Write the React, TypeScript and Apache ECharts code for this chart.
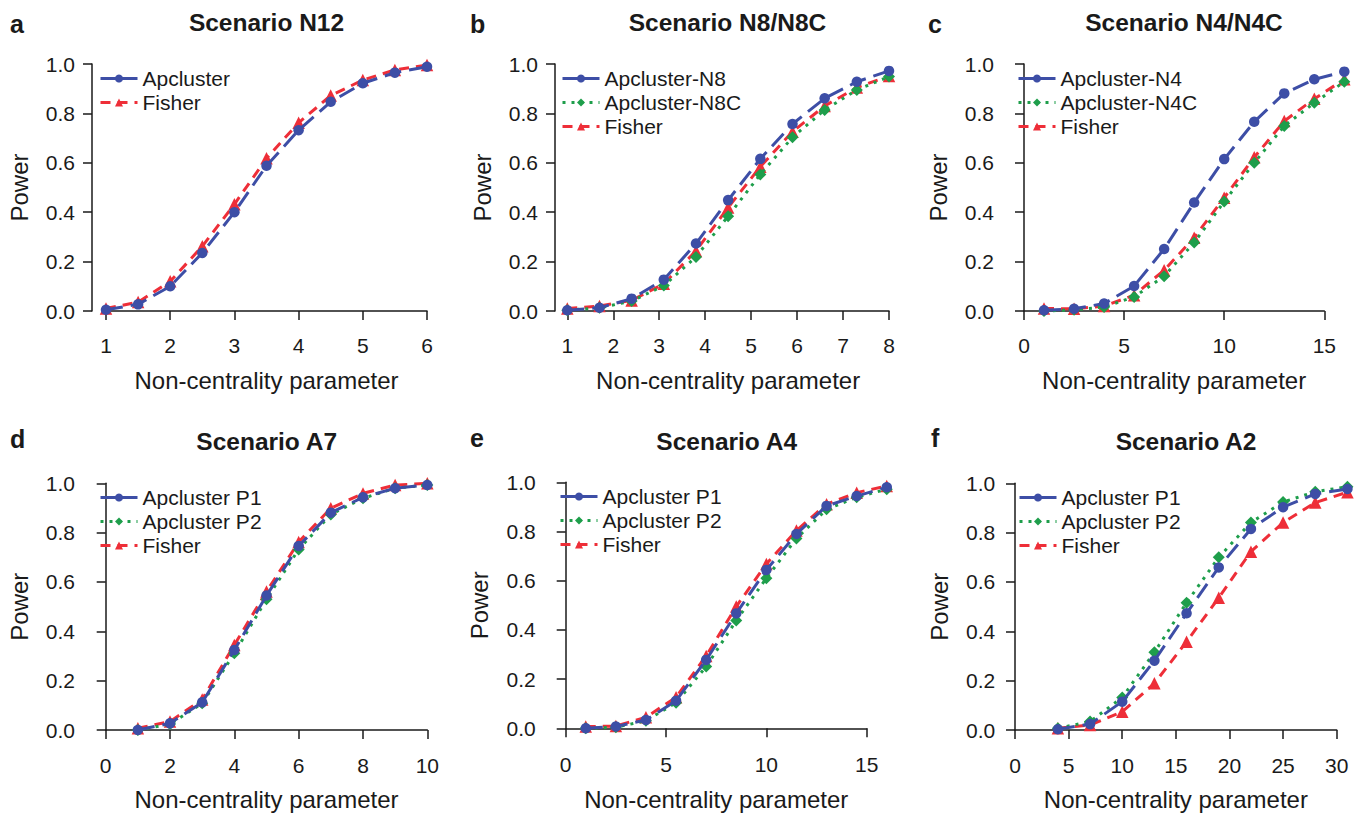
import React, { useEffect, useRef } from "react";
import * as echarts from "echarts";

const FONT = '"Liberation Sans", Arial, Helvetica, sans-serif';
const BLUE = "#3D4EA6";
const GREEN = "#1E9E4B";
const RED = "#EE2E38";
const INK = "#1a1a1a";

// ---------- data ----------
const xN12 = [1, 1.5, 2, 2.5, 3, 3.5, 4, 4.5, 5, 5.5, 6];
const n12Apcluster = [0.005, 0.027, 0.1, 0.235, 0.4, 0.588, 0.732, 0.847, 0.922, 0.965, 0.989];
const n12Fisher = [0.01, 0.036, 0.12, 0.262, 0.432, 0.618, 0.762, 0.872, 0.935, 0.976, 0.996];

const xN8 = [1, 1.7, 2.4, 3.1, 3.8, 4.5, 5.2, 5.9, 6.6, 7.3, 8];
const n8Apcluster = [0.003, 0.013, 0.05, 0.127, 0.273, 0.449, 0.616, 0.757, 0.861, 0.928, 0.972];
const n8cApcluster = [0.003, 0.013, 0.04, 0.103, 0.219, 0.384, 0.553, 0.703, 0.814, 0.895, 0.949];
const n8Fisher = [0.01, 0.02, 0.043, 0.11, 0.243, 0.419, 0.584, 0.726, 0.83, 0.905, 0.951];

const xN4 = [1, 2.5, 4, 5.5, 7, 8.5, 10, 11.5, 13, 14.5, 16];
const n4Apcluster = [0.003, 0.009, 0.03, 0.101, 0.251, 0.439, 0.615, 0.766, 0.881, 0.938, 0.969];
const n4cApcluster = [0.0, 0.005, 0.016, 0.057, 0.141, 0.277, 0.443, 0.6, 0.749, 0.843, 0.928];
const n4Fisher = [0.01, 0.009, 0.02, 0.064, 0.165, 0.297, 0.459, 0.622, 0.769, 0.859, 0.938];

const xA7 = [1, 2, 3, 4, 5, 6, 7, 8, 9, 10];
const a7P1 = [0.0, 0.027, 0.112, 0.324, 0.545, 0.746, 0.881, 0.943, 0.98, 0.993];
const a7P2 = [0.0, 0.024, 0.108, 0.311, 0.53, 0.732, 0.874, 0.939, 0.98, 0.993];
const a7Fisher = [0.007, 0.034, 0.124, 0.345, 0.561, 0.762, 0.899, 0.959, 0.993, 1.0];

const xA4 = [1, 2.5, 4, 5.5, 7, 8.5, 10, 11.5, 13, 14.5, 16];
const a4P1 = [0.0, 0.007, 0.034, 0.112, 0.278, 0.467, 0.644, 0.79, 0.904, 0.944, 0.98];
const a4P2 = [0.0, 0.004, 0.031, 0.104, 0.251, 0.438, 0.61, 0.772, 0.89, 0.939, 0.972];
const a4Fisher = [0.007, 0.009, 0.045, 0.126, 0.294, 0.495, 0.668, 0.804, 0.911, 0.958, 0.985];

const xA2 = [4, 7, 10, 13, 16, 19, 22, 25, 28, 31];
const a2P1 = [0.003, 0.024, 0.115, 0.281, 0.473, 0.659, 0.815, 0.903, 0.957, 0.977];
const a2P2 = [0.007, 0.034, 0.132, 0.315, 0.516, 0.7, 0.841, 0.924, 0.966, 0.986];
const a2Fisher = [0.007, 0.02, 0.074, 0.189, 0.358, 0.536, 0.723, 0.841, 0.922, 0.964];

const titles = ["Scenario N12", "Scenario N8/N8C", "Scenario N4/N4C", "Scenario A7", "Scenario A4", "Scenario A2"];
const letters = ["a", "b", "c", "d", "e", "f"];
const xAxisName = "Non-centrality parameter";
const yAxisName = "Power";

type Kind = "blue" | "green" | "red";
type S = { name: string; kind: Kind; y: number[] };

const panelSeries: { x: number[]; series: S[] }[] = [
  { x: xN12, series: [{ name: "Apcluster", kind: "blue", y: n12Apcluster }, { name: "Fisher", kind: "red", y: n12Fisher }] },
  {
    x: xN8,
    series: [
      { name: "Apcluster-N8", kind: "blue", y: n8Apcluster },
      { name: "Apcluster-N8C", kind: "green", y: n8cApcluster },
      { name: "Fisher", kind: "red", y: n8Fisher },
    ],
  },
  {
    x: xN4,
    series: [
      { name: "Apcluster-N4", kind: "blue", y: n4Apcluster },
      { name: "Apcluster-N4C", kind: "green", y: n4cApcluster },
      { name: "Fisher", kind: "red", y: n4Fisher },
    ],
  },
  {
    x: xA7,
    series: [
      { name: "Apcluster P1", kind: "blue", y: a7P1 },
      { name: "Apcluster P2", kind: "green", y: a7P2 },
      { name: "Fisher", kind: "red", y: a7Fisher },
    ],
  },
  {
    x: xA4,
    series: [
      { name: "Apcluster P1", kind: "blue", y: a4P1 },
      { name: "Apcluster P2", kind: "green", y: a4P2 },
      { name: "Fisher", kind: "red", y: a4Fisher },
    ],
  },
  {
    x: xA2,
    series: [
      { name: "Apcluster P1", kind: "blue", y: a2P1 },
      { name: "Apcluster P2", kind: "green", y: a2P2 },
      { name: "Fisher", kind: "red", y: a2Fisher },
    ],
  },
];

// ---------- layout ----------
// axis grid spans the tick range; data grid spans xMin..dataXMax on the same scale
const layout = [
  { left: 106, top: 64, width: 321, height: 247, xOff: 10, yOff: 14, xMin: 1, xMax: 6, xInt: 1, dataXMax: 6, cx: 266.5, ty: 22, lx: 10, ly: 24, legX: 99, legY: 68 },
  { left: 567.3, top: 64, width: 321.7, height: 247, xOff: 10, yOff: 12.3, xMin: 1, xMax: 8, xInt: 1, dataXMax: 8, cx: 727.5, ty: 22, lx: 470, ly: 23.5, legX: 561, legY: 68 },
  { left: 1024, top: 64, width: 300.3, height: 247, xOff: 10, yOff: 13, xMin: 0, xMax: 15, xInt: 5, dataXMax: 16, cx: 1184, ty: 22, lx: 928, ly: 23.5, legX: 1017, legY: 68 },
  { left: 105.7, top: 483.3, width: 321.6, height: 246.7, xOff: 10.7, yOff: 13.7, xMin: 0, xMax: 10, xInt: 2, dataXMax: 10, cx: 266.7, ty: 441.7, lx: 10, ly: 438.5, legX: 99, legY: 487 },
  { left: 565.7, top: 482.3, width: 301, height: 246, xOff: 11.7, yOff: 13, xMin: 0, xMax: 15, xInt: 5, dataXMax: 16, cx: 726.7, ty: 441.7, lx: 470, ly: 438, legX: 559, legY: 486 },
  { left: 1015, top: 483.3, width: 321.7, height: 246.7, xOff: 10.7, yOff: 2.7, xMin: 0, xMax: 30, xInt: 5, dataXMax: 31, cx: 1186, ty: 441.7, lx: 931, ly: 438, legX: 1018, legY: 487 },
];

const kindStyle: Record<Kind, any> = {
  blue: { color: BLUE, symbol: "circle", symbolSize: 10.5, dash: [17, 8], z: 4 },
  green: { color: GREEN, symbol: "diamond", symbolSize: 12, dash: [3, 6], z: 3 },
  red: { color: RED, symbol: "triangle", symbolSize: 12.5, dash: [10, 7], z: 2 },
};

function buildOption() {
  const grid: any[] = [];
  const xAxis: any[] = [];
  const yAxis: any[] = [];
  const series: any[] = [];
  const legend: any[] = [];
  const graphic: any[] = [];
  const n = layout.length;

  const axisCommon = {
    axisLine: { show: true, lineStyle: { color: INK, width: 1.5 } },
    axisTick: { show: true, length: 9, inside: false, lineStyle: { color: INK, width: 1.5 } },
    splitLine: { show: false },
    nameLocation: "middle",
    nameTextStyle: { fontFamily: FONT, fontSize: 24, color: INK },
  };

  // visible axis grids
  layout.forEach((L, i) => {
    grid.push({ left: L.left, top: L.top, width: L.width, height: L.height, containLabel: false });
    xAxis.push({
      ...axisCommon,
      type: "value",
      gridIndex: i,
      min: L.xMin,
      max: L.xMax,
      interval: L.xInt,
      offset: L.xOff,
      name: xAxisName,
      nameGap: 47,
      axisLabel: { fontFamily: FONT, fontSize: 21, color: INK, margin: 14 },
    });
    yAxis.push({
      ...axisCommon,
      type: "value",
      gridIndex: i,
      min: 0,
      max: 1,
      interval: 0.2,
      offset: L.yOff,
      name: yAxisName,
      nameGap: 61,
      axisLabel: { fontFamily: FONT, fontSize: 21, color: INK, margin: 17, formatter: (v: number) => v.toFixed(1) },
    });
  });

  // data grids (same scale, hidden axes)
  layout.forEach((L, i) => {
    const pxPerUnit = L.width / (L.xMax - L.xMin);
    grid.push({
      left: L.left,
      top: L.top,
      width: pxPerUnit * (L.dataXMax - L.xMin),
      height: L.height,
      containLabel: false,
    });
    xAxis.push({ type: "value", gridIndex: n + i, min: L.xMin, max: L.dataXMax, show: false, splitLine: { show: false } });
    yAxis.push({ type: "value", gridIndex: n + i, min: 0, max: 1, show: false, splitLine: { show: false } });

    const P = panelSeries[i];
    const order: Kind[] = ["red", "green", "blue"];
    order.forEach((k) => {
      P.series
        .filter((s) => s.kind === k)
        .forEach((s) => {
          const st = kindStyle[k];
          series.push({
            type: "line",
            name: s.name,
            xAxisIndex: n + i,
            yAxisIndex: n + i,
            data: P.x.map((xv, j) => [xv, s.y[j]]),
            symbol: st.symbol,
            symbolSize: st.symbolSize,
            showSymbol: true,
            clip: false,
            z: st.z,
            lineStyle: { color: st.color, width: 3, type: st.dash },
            itemStyle: { color: st.color },
            emphasis: { disabled: true },
          });
        });
    });

    legend.push({
      orient: "vertical",
      left: L.legX,
      top: L.legY,
      padding: 0,
      itemWidth: 37,
      itemHeight: 10,
      itemGap: 3,
      selectedMode: false,
      textStyle: { fontFamily: FONT, fontSize: 21, color: INK },
      lineStyle: { width: 3 },
      data: P.series.map((s) =>
        s.kind === "blue" ? { name: s.name, lineStyle: { type: "solid", width: 3 } } : { name: s.name }
      ),
    });

    graphic.push({
      type: "text",
      x: L.cx,
      y: L.ty,
      style: {
        text: titles[i],
        fill: INK,
        font: `bold 24.5px ${FONT}`,
        align: "center",
        verticalAlign: "middle",
      },
    });
    graphic.push({
      type: "text",
      x: L.lx,
      y: L.ly,
      style: {
        text: letters[i],
        fill: INK,
        font: `bold 25px ${FONT}`,
        align: "left",
        verticalAlign: "middle",
      },
    });
  });

  return {
    animation: false,
    backgroundColor: "#ffffff",
    grid,
    xAxis,
    yAxis,
    series,
    legend,
    graphic,
  };
}

export default function App() {
  const ref = useRef<HTMLDivElement>(null);
  useEffect(() => {
    const chart = echarts.init(ref.current as HTMLDivElement, null, { renderer: "svg" });
    chart.setOption(buildOption() as any);
    return () => chart.dispose();
  }, []);
  return (
    <div
      ref={ref}
      style={{ position: "fixed", left: 0, top: 0, width: 1361, height: 815, background: "#fff" }}
    />
  );
}
